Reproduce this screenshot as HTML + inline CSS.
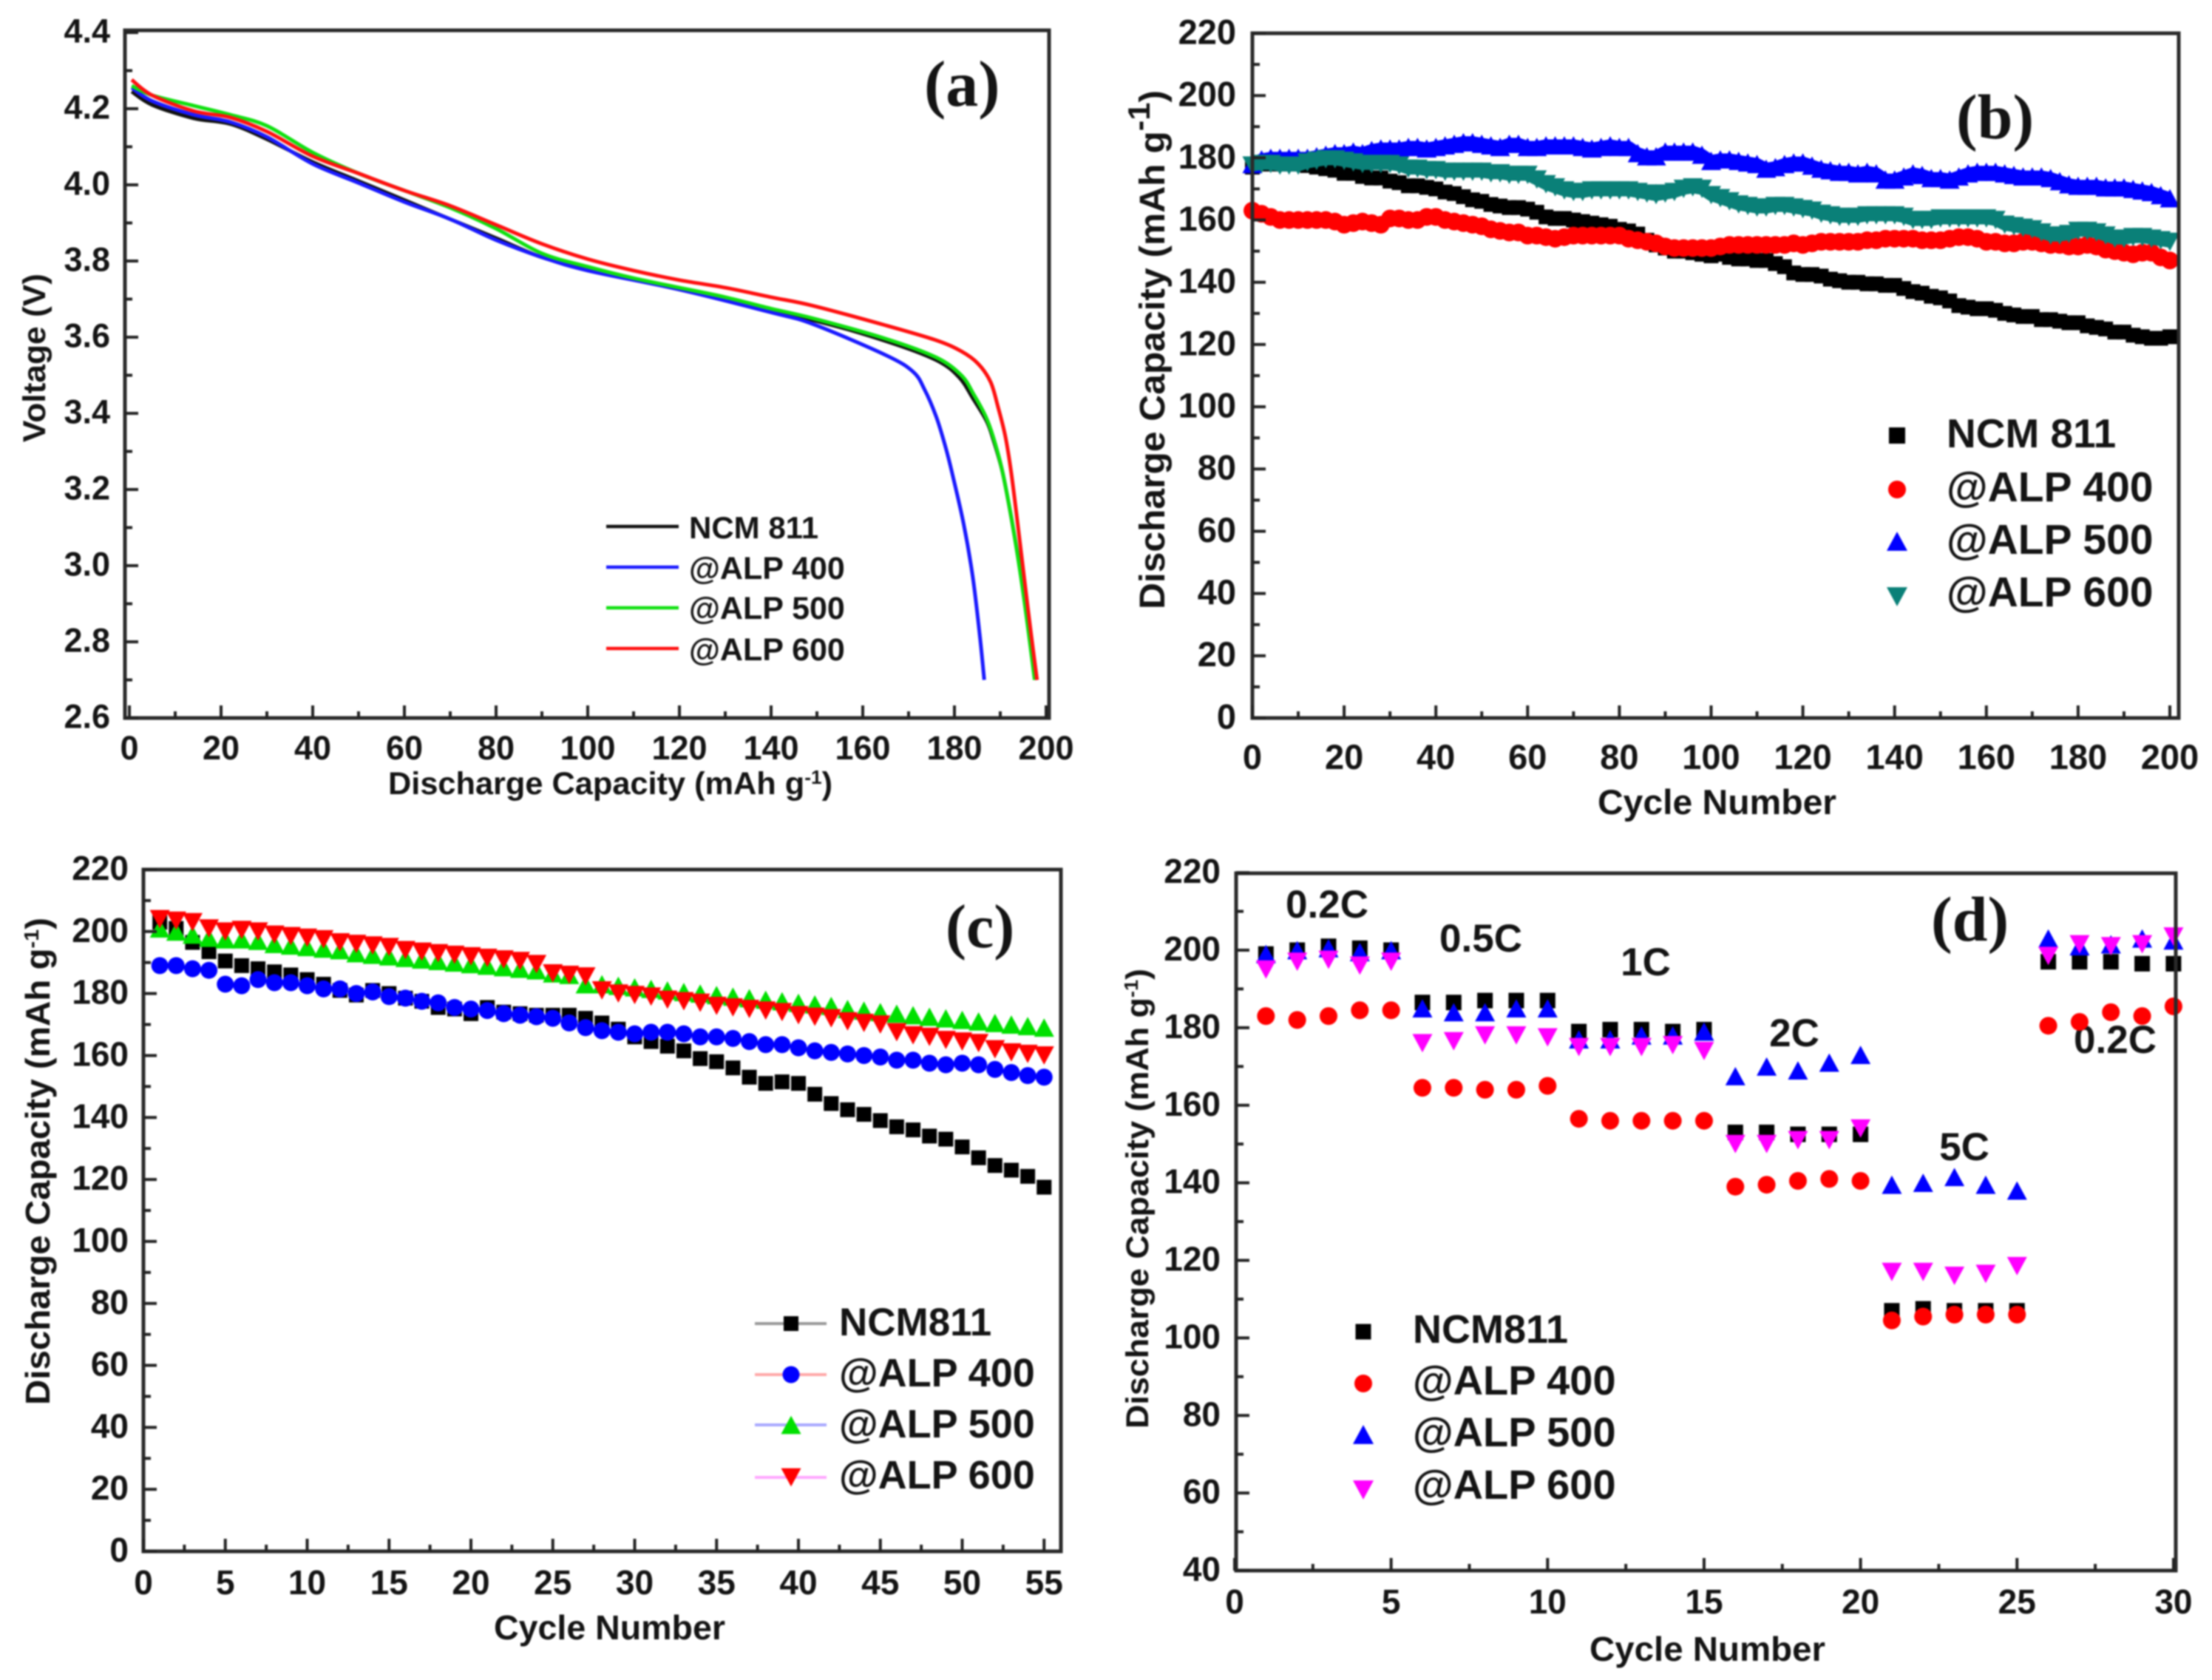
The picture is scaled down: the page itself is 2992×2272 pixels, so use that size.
<!DOCTYPE html>
<html lang="en">
<head>
<meta charset="utf-8">
<title>Battery discharge performance charts</title>
<style>
html,body{margin:0;padding:0;background:#fff;}
svg{display:block;filter:blur(1.1px);}
text{font-family:"Liberation Sans",sans-serif;font-weight:bold;fill:#141414;}
.serif{font-family:"Liberation Serif",serif;}
</style>
</head>
<body>
<svg id="figure" xmlns="http://www.w3.org/2000/svg" width="2992" height="2272" viewBox="0 0 2992 2272">
<rect width="2992" height="2272" fill="#fff"/>

<g>
<text class="serif" x="1250" y="143" font-size="88">(a)</text>
<text x="525" y="1074" font-size="43" textLength="601" lengthAdjust="spacingAndGlyphs">Discharge Capacity (mAh g<tspan font-size="26" dy="-14">-1</tspan><tspan dy="14">)</tspan></text>
<text transform="translate(61,598) rotate(-90)" font-size="43" textLength="228" lengthAdjust="spacingAndGlyphs">Voltage (V)</text>
<text x="932" y="728" font-size="42">NCM 811</text>
<text x="932" y="783" font-size="43">@ALP 400</text>
<text x="932" y="837" font-size="43">@ALP 500</text>
<text x="932" y="893" font-size="43">@ALP 600</text>
</g>

<g>
<text class="serif" x="2646" y="187" font-size="86">(b)</text>
<text x="2161" y="1101" font-size="47" textLength="323" lengthAdjust="spacingAndGlyphs">Cycle Number</text>
<text transform="translate(1575,824) rotate(-90)" font-size="48" textLength="702" lengthAdjust="spacingAndGlyphs">Discharge Capacity (mAh g<tspan font-size="42" dy="-20">-1</tspan><tspan dy="20">)</tspan></text>
<text x="2633" y="605" font-size="55">NCM 811</text>
<text x="2633" y="678" font-size="57">@ALP 400</text>
<text x="2633" y="749" font-size="57">@ALP 500</text>
<text x="2633" y="820" font-size="57">@ALP 600</text>
</g>

<g>
<text class="serif" x="1279" y="1281" font-size="84">(c)</text>
<text x="668" y="2217" font-size="46" textLength="313" lengthAdjust="spacingAndGlyphs">Cycle Number</text>
<text transform="translate(67,1900) rotate(-90)" font-size="46" textLength="659" lengthAdjust="spacingAndGlyphs">Discharge Capacity (mAh g<tspan font-size="28" dy="-15">-1</tspan><tspan dy="15">)</tspan></text>
<text x="1135" y="1806" font-size="53">NCM811</text>
<text x="1135" y="1875" font-size="54">@ALP 400</text>
<text x="1135" y="1944" font-size="54">@ALP 500</text>
<text x="1135" y="2013" font-size="54">@ALP 600</text>
</g>

<g>
<text class="serif" x="2612" y="1272" font-size="86">(d)</text>
<text x="2150" y="2246" font-size="46" textLength="319" lengthAdjust="spacingAndGlyphs">Cycle Number</text>
<text transform="translate(1553,1932) rotate(-90)" font-size="43" textLength="622" lengthAdjust="spacingAndGlyphs">Discharge Capacity (mAh g<tspan font-size="26" dy="-14">-1</tspan><tspan dy="14">)</tspan></text>
<text x="1911" y="1816" font-size="54">NCM811</text>
<text x="1911" y="1886" font-size="56">@ALP 400</text>
<text x="1911" y="1956" font-size="56">@ALP 500</text>
<text x="1911" y="2027" font-size="56">@ALP 600</text>
<text x="1795" y="1241" font-size="53" text-anchor="middle">0.2C</text>
<text x="2003" y="1287" font-size="53" text-anchor="middle">0.5C</text>
<text x="2226" y="1319" font-size="53" text-anchor="middle">1C</text>
<text x="2427" y="1415" font-size="53" text-anchor="middle">2C</text>
<text x="2657" y="1569" font-size="53" text-anchor="middle">5C</text>
<text x="2861" y="1424" font-size="53" text-anchor="middle">0.2C</text>
</g>
</svg>

<script>
/* ---------- Panel (a) data: voltage curves ---------- */
const aXTicks = [0,20,40,60,80,100,120,140,160,180,200];
const aYTicks = [2.6,2.8,3.0,3.2,3.4,3.6,3.8,4.0,4.2,4.4];
const aNcmCap = [0.5,5,14,22,30,40,50,60,70,80,90,100,120,149,165,176,181,184,187,188.5,190.5,192.5,194.5,196.5,198];
const aNcmV   = [4.245,4.21,4.175,4.16,4.12,4.06,4.01,3.96,3.91,3.86,3.81,3.78,3.725,3.645,3.59,3.54,3.495,3.44,3.38,3.33,3.245,3.12,2.98,2.83,2.7];
const a400Cap = [0.5,5,14,22,30,40,50,60,70,80,90,100,120,140,149,165,171,173.5,176,178,179.5,182,184,185.5,186.5];
const a400V   = [4.255,4.22,4.184,4.165,4.126,4.055,4.005,3.955,3.91,3.855,3.81,3.775,3.725,3.665,3.635,3.553,3.509,3.462,3.392,3.314,3.243,3.11,2.97,2.82,2.7];
const a500Cap = [0.5,5,14,22,30,40,50,60,70,80,90,100,110,120,130,140,149,165,176,181.5,184.2,186.8,188.4,190.3,192.5,194.5,196,197.5];
const a500V   = [4.26,4.235,4.208,4.184,4.155,4.085,4.03,3.985,3.94,3.885,3.82,3.785,3.755,3.73,3.705,3.675,3.65,3.596,3.547,3.50,3.45,3.392,3.34,3.256,3.12,2.97,2.84,2.7];
const a600Cap = [0.5,5,14,22,30,40,50,60,70,80,90,100,110,120,130,140,149,165,176,181.5,185.2,187.9,189.5,191.1,192.4,194,196,198];
const a600V   = [4.276,4.235,4.194,4.177,4.14,4.075,4.03,3.985,3.945,3.895,3.845,3.805,3.775,3.75,3.73,3.705,3.683,3.631,3.592,3.563,3.53,3.482,3.417,3.34,3.243,3.09,2.89,2.7];

/* ---------- Panel (b) data: long-term cycling ---------- */
const bXTicks = [0,20,40,60,80,100,120,140,160,180,200];
const bYTicks = [0,20,40,60,80,100,120,140,160,180,200,220];
const bCycles = [0,2,4,6,8,10,12,14,16,18,20,22,24,26,28,30,32,34,36,38,40,42,44,46,48,50,52,54,56,58,60,62,64,66,68,70,72,74,76,78,80,82,84,86,88,90,92,94,96,98,100,102,104,106,108,110,112,114,116,118,120,122,124,126,128,130,132,134,136,138,140,142,144,146,148,150,152,154,156,158,160,162,164,166,168,170,172,174,176,178,180,182,184,186,188,190,192,194,196,198,200];
const bNcm = [177,178,178,178,178,178,177.5,177,176.5,176,
175,175,174,173.5,173.5,172.5,172,171,171,170.5,
170,169,168.5,167.5,166.5,166,165,164.5,164,164,
163.5,162.5,161,160.5,160.5,160,159.5,159,158.5,158,
157,156.5,155.5,153.5,152,151,150,150,149.5,149,
148.5,149,148,147.5,147.5,147,147,146,145,143,
142.5,142.5,142,141,140.5,140,140,139.5,139.5,139,
139,138,137,136.5,135.5,135,134,132.5,132,131.5,
131.5,131,130,129.5,129,129,128,128,127.5,127,
127,126,125.5,125,124,124,123,122.5,122,122,122.5];
const bAlp400 = [163,162,161,160,160,160,160,160,160,159.5,
158.5,159,159.5,159,158.5,160.5,160.5,160,160,161,
161,160,159.5,159,158.5,158,157,156.5,156,156,
155,155,154.5,154,154.5,155,155,155,155,155,
155,154,153.5,153,152.5,151.5,151,151,151,151,
151,151.5,152,152,152,152,152,152,152,152.5,
152,152.5,153,153,153,153,153,153.5,153.5,154,
154,154,154,153.5,153.5,153.5,154,154.5,154.5,154,
153,153,152.5,152.5,153,153,152.5,152,152,151.5,
151.5,152,151.5,150.5,150,149.5,149,149.5,149.5,148,147];
const bAlp500 = [178,179.5,180,180,180,180,180,180.5,181,181.5,
181.5,182,181.5,182.5,183,183,183,183.5,183.5,183,
183.5,184,184.5,185,185,184.5,184,183.5,184.5,184.5,
183.5,183.5,184,184,184,184,183.5,183,183.5,184,
183.5,183.5,181.5,180.5,180.5,182,182,182,182,181,
179,179.5,179.5,179,178.5,178,176.5,177,178,178.5,
178.5,177.5,176.5,176,175.5,175.5,175,175.5,175,173,
173,174,175,174.5,173.5,173.5,173,174,175,175.5,
175.5,175.5,175,174.5,174,174,174,173.5,172.5,171.5,
171,171,171,170.5,170.5,170.5,170,169.5,169,168,167];
const bAlp600 = [177.5,178,178,177.5,177.5,177.5,178.5,179,179.5,179.5,
179,178.5,178,178,178,178,177.5,176.5,176.5,176,
176,175.5,175.5,175.5,175.5,175.5,175,175,174.5,174.5,
174.5,173,171.5,170.5,169.5,169,169,169.5,169.5,169.5,
169.5,169.5,169,168.5,168,168.5,169,170,170.5,170,
168,167,166,165,164.5,164,164,164.5,164.5,164,
163.5,163,162,161.5,161,161,161,161.5,161.5,161.5,
161.5,161,160,160,160,160.5,160.5,160.5,160.5,160.5,
160.5,160,158.5,158,157.5,157,156,155,155,155.5,
156.5,156.5,156,155,154,154,154.5,154.5,154,153.5,153];

/* ---------- Panel (c) data: cycling ---------- */
const cXTicks = [0,5,10,15,20,25,30,35,40,45,50,55];
const cYTicks = [0,20,40,60,80,100,120,140,160,180,200,220];
const cCycles = [1,2,3,4,5,6,7,8,9,10,11,12,13,14,15,16,17,18,19,20,21,22,23,24,25,26,27,28,29,30,31,32,33,34,35,36,37,38,39,40,41,42,43,44,45,46,47,48,49,50,51,52,53,54,55];
const cNcm = [203,201,196.5,193.5,190.5,189,188,187,186,184.5,183,181,179.5,181,180,178.5,177.5,175.5,175,173.5,175.5,174,173.5,173,173,173,172,170.5,168.5,166,164.5,163,161.5,159,158,156,153,151,151.5,151,147.5,144.5,142.5,141,139,137,136,134,133,130.5,127,124.5,123,121,117.5];
const cAlp400 = [189,189,188,187.5,183,182.5,184.5,183.5,183.5,182.5,181.5,181.5,180,180.5,179,178.5,177.5,177,175.5,175,174.5,173.5,173,172.5,172,170.5,169,168,167.5,167,167.5,167.5,167,166,166,165.5,164.5,163.5,163.5,162.5,161.5,161,160.5,160,159.5,158.5,158.5,157.5,157,157.5,157,155.5,154.5,153.5,153];
const cAlp500 = [201,200,199,198,197.5,197.5,197,196,195.5,195,194.5,194,193,192.5,192,191.5,191,190.5,190,189.5,189,188.5,188,187.5,186.5,186,183,183,182.5,182,181.5,181,180.5,180,179.5,179,178.5,178,177.5,177,176.5,176,175,174.5,174,173.5,173,172.5,172,171.5,171,170.5,170,169.5,169];
const cAlp600 = [204,203.5,203,201,200,200.5,200,199,198.5,198,197.5,196.5,196,195.5,195,194,193.5,193,192.5,192,191.5,191,190.5,189.5,186.5,186,185.5,181,180,179.5,179,178,177.5,177,176,175.5,175,174.5,174,173,172.5,172,171,170.5,170,167.5,166.5,166,165,164.5,164,162,161,160.5,160];

/* ---------- Panel (d) data: rate capability ---------- */
const dXTicks = [0,5,10,15,20,25,30];
const dYTicks = [40,60,80,100,120,140,160,180,200,220];
const dCycles = [1,2,3,4,5,6,7,8,9,10,11,12,13,14,15,16,17,18,19,20,21,22,23,24,25,26,27,28,29,30];
const dNcm = [199,200,201,200.5,200,186.5,186.5,187,187,187,179,179.5,179.5,179,179.5,153,153,152.5,152.5,152.5,107,107.5,107,107,107,197,197,197,196.5,196.5];
const dAlp400 = [183,182,183,184.5,184.5,164.5,164.5,164,164,165,156.5,156,156,156,156,139,139.5,140.5,141,140.5,104.5,105.5,106,106,106,180.5,181.5,184,183,185.5];
const dAlp500 = [199,200,200.5,199.5,200,185,184,184,185,185,177,177,178,178,179,167.5,170,169,171,173,139.5,140,141.5,139.5,138,203,201,201.5,203,202.5];
const dAlp600 = [195,197,197.5,196,197,176,176.5,178,178,177.5,175,175,175,175.5,174,150,150,151,151,154,117,117,116,116.5,118.5,198.5,201.5,201,201.5,203.5];

/* ---------- Axis functions ---------- */
const aX = v => 175 + v * 6.2;
const aY = v => 971 - (v - 2.6) * 515;
const bX = v => 1694 + v * 6.205;
const bY = v => 971 - v * 4.209;
const cX = v => 194 + v * 22.15;
const cY = v => 2098 - v * 4.191;
const dX = v => 1670 + v * 42.33;
const dY = v => 2124 - (v - 40) * 5.244;

const NS = 'http://www.w3.org/2000/svg';
const root = document.getElementById('figure');

function shape(parent, tag, attrs, name) {
  const el = document.createElementNS(NS, tag);
  for (const k in attrs) el.setAttribute(k, attrs[k]);
  
  
  parent.appendChild(el);
  return el;
}

function group(parent, name) {
  const g = document.createElementNS(NS, 'g');
  
  
  parent.appendChild(g);
  return g;
}

function marker(parent, kind, x, y, size, color, name) {
  const s = size / 2;
  if (kind === 'square') {
    return shape(parent, 'rect', {x: x - s, y: y - s, width: size, height: size, fill: color}, name);
  }
  if (kind === 'circle') {
    return shape(parent, 'ellipse', {cx: x, cy: y, rx: s, ry: s, fill: color}, name);
  }
  const h = size * 0.46;
  const pts = kind === 'up'
    ? [[x - s, y + h], [x + s, y + h], [x, y - h]]
    : [[x - s, y - h], [x + s, y - h], [x, y + h]];
  return shape(parent, 'polygon', {points: pts.map(p => p.join(',')).join(' '), fill: color}, name);
}

function drawAxes(prefix, box, xTicks, yTicks, xf, yf, labelCfg) {
  const g = group(root, prefix + '-axes');
  shape(g, 'rect', {x: box.l, y: box.t, width: box.r - box.l, height: box.b - box.t, fill: 'none', stroke: '#2a2a2a', 'stroke-width': 5}, prefix + '-frame');
  const tick = '#222';
  xTicks.forEach((v, i) => {
    const x = xf(v);
    shape(g, 'line', {x1: x, x2: x, y1: box.b, y2: box.b - 17, stroke: tick, 'stroke-width': 4}, prefix + '-x-tick');
    const t = shape(g, 'text', {x: x, y: labelCfg.xBase, 'font-size': labelCfg.size, 'text-anchor': 'middle'}, prefix + '-x-tick-label');
    t.textContent = String(v);
    if (i < xTicks.length - 1) {
      const m = xf((v + xTicks[i + 1]) / 2);
      shape(g, 'line', {x1: m, x2: m, y1: box.b, y2: box.b - 9, stroke: tick, 'stroke-width': 4}, prefix + '-x-minor-tick');
    }
  });
  yTicks.forEach((v, i) => {
    const y = yf(v);
    shape(g, 'line', {x1: box.l, x2: box.l + 18, y1: y, y2: y, stroke: tick, 'stroke-width': 4}, prefix + '-y-tick');
    const t = shape(g, 'text', {x: labelCfg.yRight, y: y + labelCfg.size * 0.36 - 2.5, 'font-size': labelCfg.size, 'text-anchor': 'end'}, prefix + '-y-tick-label');
    t.textContent = labelCfg.yFixed ? v.toFixed(labelCfg.yFixed) : String(v);
    if (i < yTicks.length - 1) {
      const m = yf((v + yTicks[i + 1]) / 2);
      shape(g, 'line', {x1: box.l, x2: box.l + 10, y1: m, y2: m, stroke: tick, 'stroke-width': 4}, prefix + '-y-minor-tick');
    }
  });
}

/* Smooth curve through the read points (Catmull-Rom spline in pixel space). */
function drawCurve(name, xs, ys, color) {
  const p = xs.map((v, i) => [aX(v), aY(ys[i])]);
  let d = 'M' + p[0][0].toFixed(1) + ' ' + p[0][1].toFixed(1);
  for (let i = 0; i < p.length - 1; i++) {
    const p0 = p[Math.max(i - 1, 0)];
    const p1 = p[i];
    const p2 = p[i + 1];
    const p3 = p[Math.min(i + 2, p.length - 1)];
    const c1x = p1[0] + (p2[0] - p0[0]) / 6;
    const c1y = p1[1] + (p2[1] - p0[1]) / 6;
    const c2x = p2[0] - (p3[0] - p1[0]) / 6;
    const c2y = p2[1] - (p3[1] - p1[1]) / 6;
    d += ' C' + c1x.toFixed(1) + ' ' + c1y.toFixed(1) + ' ' + c2x.toFixed(1) + ' ' + c2y.toFixed(1) + ' ' + p2[0].toFixed(1) + ' ' + p2[1].toFixed(1);
  }
  shape(root, 'path', {d: d, fill: 'none', stroke: color, 'stroke-width': 5, 'stroke-linejoin': 'round', 'stroke-linecap': 'butt'}, name);
}

function drawSeries(name, xs, ys, xf, yf, kind, size, color, bandWidth) {
  const g = group(root, name);
  if (bandWidth) {
    const pts = xs.map((v, i) => xf(v).toFixed(1) + ',' + yf(ys[i]).toFixed(1)).join(' ');
    shape(g, 'polyline', {points: pts, fill: 'none', stroke: color, 'stroke-width': bandWidth, 'stroke-linejoin': 'round'}, name + '-band');
  }
  xs.forEach((v, i) => marker(g, kind, xf(v), yf(ys[i]), size, color, name + '-point'));
}

/* ---------- Panel (a) ---------- */
drawCurve('curve-ncm-811', aNcmCap, aNcmV, '#111');
drawCurve('curve-alp-400', a400Cap, a400V, '#1a1aff');
drawCurve('curve-alp-500', a500Cap, a500V, '#10e010');
drawCurve('curve-alp-600', a600Cap, a600V, '#ff1010');
drawAxes('panel-a', {l: 169, r: 1419, t: 41, b: 971}, aXTicks, aYTicks, aX, aY, {size: 45, xBase: 1027, yRight: 149, yFixed: 1});
shape(root, 'line', {x1: 820, x2: 918, y1: 712, y2: 712, stroke: '#111', 'stroke-width': 4.5}, 'legend-a-line-ncm-811');
shape(root, 'line', {x1: 820, x2: 918, y1: 767, y2: 767, stroke: '#1a1aff', 'stroke-width': 4.5}, 'legend-a-line-alp-400');
shape(root, 'line', {x1: 820, x2: 918, y1: 822, y2: 822, stroke: '#10e010', 'stroke-width': 4.5}, 'legend-a-line-alp-500');
shape(root, 'line', {x1: 820, x2: 918, y1: 877, y2: 877, stroke: '#ff1010', 'stroke-width': 4.5}, 'legend-a-line-alp-600');

/* ---------- Panel (b) ---------- */
drawSeries('series-b-ncm-811', bCycles, bNcm, bX, bY, 'square', 20, '#000', 14);
drawSeries('series-b-alp-400', bCycles, bAlp400, bX, bY, 'circle', 24, '#ff0000', 18);
drawSeries('series-b-alp-500', bCycles, bAlp500, bX, bY, 'up', 27, '#0000ff', 16);
drawSeries('series-b-alp-600', bCycles, bAlp600, bX, bY, 'down', 27, '#0a8078', 16);
drawAxes('panel-b', {l: 1694, r: 2947, t: 45, b: 971}, bXTicks, bYTicks, bX, bY, {size: 47, xBase: 1040, yRight: 1672});
marker(root, 'square', 2566, 589, 22, '#000', 'legend-b-marker-ncm-811');
marker(root, 'circle', 2566, 662, 24, '#ff0000', 'legend-b-marker-alp-400');
marker(root, 'up', 2566, 732, 28, '#0000ff', 'legend-b-marker-alp-500');
marker(root, 'down', 2566, 807, 28, '#0a8078', 'legend-b-marker-alp-600');

/* ---------- Panel (c) ---------- */
drawSeries('series-c-ncm811', cCycles, cNcm, cX, cY, 'square', 20, '#000');
drawSeries('series-c-alp-400', cCycles, cAlp400, cX, cY, 'circle', 23, '#0000ff');
drawSeries('series-c-alp-500', cCycles, cAlp500, cX, cY, 'up', 27, '#00e000');
drawSeries('series-c-alp-600', cCycles, cAlp600, cX, cY, 'down', 27, '#ff0000');
drawAxes('panel-c', {l: 194, r: 1435, t: 1176, b: 2098}, cXTicks, cYTicks, cX, cY, {size: 46, xBase: 2156, yRight: 174});
shape(root, 'line', {x1: 1021, x2: 1118, y1: 1790, y2: 1790, stroke: '#999', 'stroke-width': 4}, 'legend-c-line-ncm811');
shape(root, 'line', {x1: 1021, x2: 1118, y1: 1859, y2: 1859, stroke: '#ffa8a8', 'stroke-width': 4}, 'legend-c-line-alp-400');
shape(root, 'line', {x1: 1021, x2: 1118, y1: 1927, y2: 1927, stroke: '#a8a8ff', 'stroke-width': 4}, 'legend-c-line-alp-500');
shape(root, 'line', {x1: 1021, x2: 1118, y1: 1998, y2: 1998, stroke: '#ffa8ff', 'stroke-width': 4}, 'legend-c-line-alp-600');
marker(root, 'square', 1070, 1790, 20, '#000', 'legend-c-marker-ncm811');
marker(root, 'circle', 1070, 1859, 23, '#0000ff', 'legend-c-marker-alp-400');
marker(root, 'up', 1070, 1927, 27, '#00e000', 'legend-c-marker-alp-500');
marker(root, 'down', 1070, 1998, 27, '#ff0000', 'legend-c-marker-alp-600');

/* ---------- Panel (d) ---------- */
drawSeries('series-d-ncm811', dCycles, dNcm, dX, dY, 'square', 21, '#000');
drawSeries('series-d-alp-400', dCycles, dAlp400, dX, dY, 'circle', 24, '#ff0000');
drawSeries('series-d-alp-500', dCycles, dAlp500, dX, dY, 'up', 27, '#0000ff');
drawSeries('series-d-alp-600', dCycles, dAlp600, dX, dY, 'down', 27, '#ff00ff');
drawAxes('panel-d', {l: 1672, r: 2943, t: 1181, b: 2124}, dXTicks, dYTicks, dX, dY, {size: 46, xBase: 2182, yRight: 1651});
marker(root, 'square', 1844, 1801, 21, '#000', 'legend-d-marker-ncm811');
marker(root, 'circle', 1844, 1871, 24, '#ff0000', 'legend-d-marker-alp-400');
marker(root, 'up', 1844, 1940, 28, '#0000ff', 'legend-d-marker-alp-500');
marker(root, 'down', 1844, 2015, 28, '#ff00ff', 'legend-d-marker-alp-600');
</script>
</body>
</html>
